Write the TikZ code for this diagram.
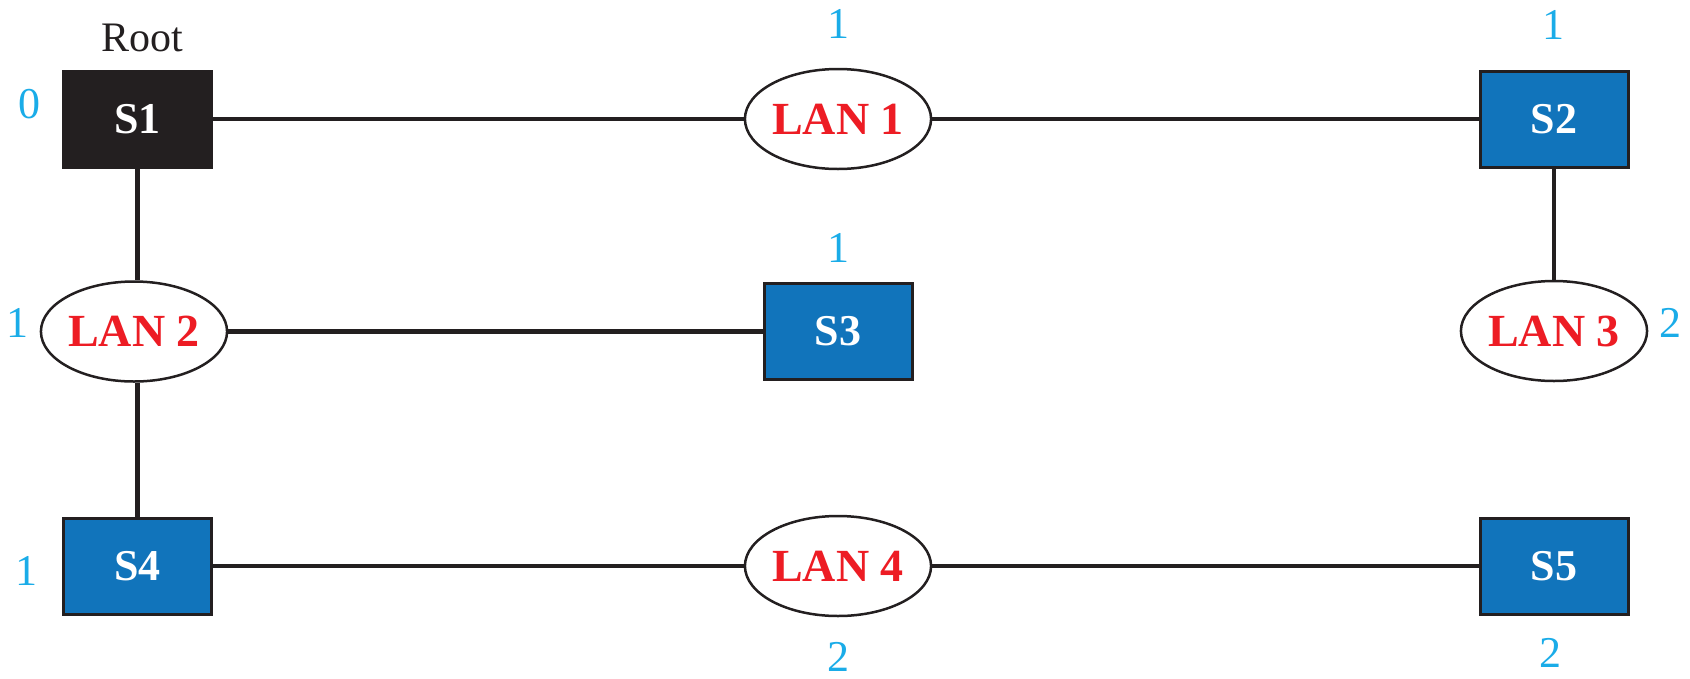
\documentclass[tikz,border=0pt]{standalone}
\usepackage{fontspec}
\setmainfont{Liberation Serif}
\usetikzlibrary{shapes.geometric}
\definecolor{swblue}{HTML}{1174BB}
\definecolor{rootblk}{HTML}{231F20}
\definecolor{lanred}{HTML}{ED1C24}
\definecolor{numcyan}{HTML}{1AACE8}
\tikzset{
  sw/.style={rectangle, draw=rootblk, line width=3pt, fill=swblue, text=white,
    minimum width=148pt, minimum height=96pt, inner sep=0pt,
    font=\fontsize{44}{50}\selectfont\bfseries},
  rootsw/.style={sw, fill=rootblk},
  lan/.style={ellipse, draw=rootblk, line width=2.5pt, fill=white, text=lanred,
    minimum width=184pt, minimum height=100pt, inner sep=0pt,
    font=\fontsize{46}{52}\selectfont\bfseries},
  num/.style={text=numcyan, inner sep=0pt, font=\fontsize{44}{50}\selectfont},
  link/.style={draw=rootblk, line width=4.5pt},
  rootlbl/.style={text=rootblk, inner sep=0pt, font=\fontsize{42}{50}\selectfont}
}
\begin{document}
\begin{tikzpicture}[x=1pt,y=-1pt]
\useasboundingbox (0,0) rectangle (1690,678);
% nodes
\node[rootsw] (s1) at (137.5,119) {S1};
\node[sw] (s2) at (1554,119) {S2};
\node[sw] (s3) at (838,331.5) {S3};
\node[sw] (s4) at (137.5,566) {S4};
\node[sw] (s5) at (1554,566) {S5};
\node[lan] (lan1) at (838,119) {LAN 1};
\node[lan] (lan2) at (134,331.5) {LAN 2};
\node[lan] (lan3) at (1554,331) {LAN 3};
\node[lan] (lan4) at (838,566) {LAN 4};
% connectors
\draw[link] (s1.east) -- (lan1.west);
\draw[link] (lan1.east) -- (s2.west);
\draw[link] (s1.south) -- (s1.south |- lan2.north);
\draw[link] (lan2.east) -- (s3.west);
\draw[link] (s4.north |- lan2.south) -- (s4.north);
\draw[link] (s2.south) -- (lan3.north);
\draw[link] (s4.east) -- (lan4.west);
\draw[link] (lan4.east) -- (s5.west);
% labels
\node[rootlbl] (root) at (142,38) {Root};
\node[num] (n0) at (29,104) {0};
\node[num] (n1) at (838,24) {1};
\node[num] (n2) at (1553,25) {1};
\node[num] (n3) at (838,248) {1};
\node[num] (n4) at (17,323) {1};
\node[num] (n5) at (1670,323) {2};
\node[num] (n6) at (26,571) {1};
\node[num] (n7) at (838,657) {2};
\node[num] (n8) at (1550,653) {2};
\end{tikzpicture}
\end{document}
